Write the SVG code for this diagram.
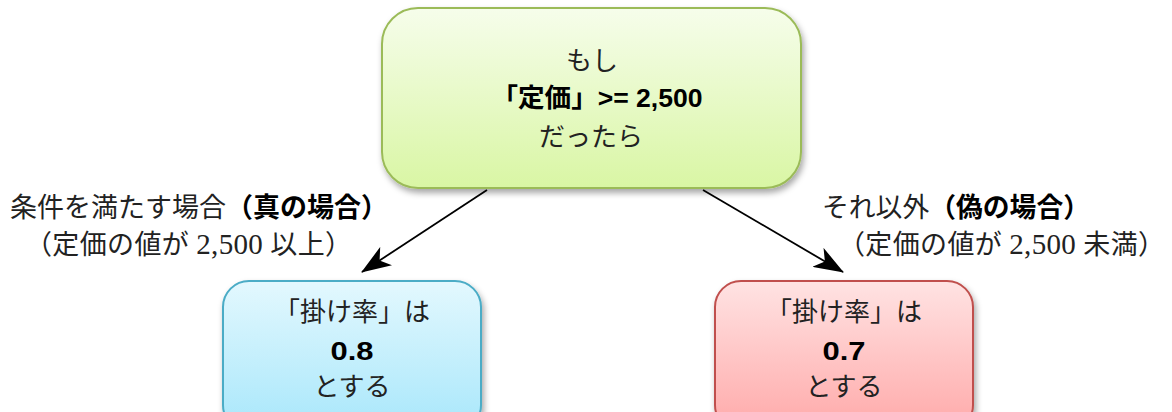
<svg xmlns="http://www.w3.org/2000/svg" width="1172" height="412" viewBox="0 0 1172 412">
<style>
.t{font-family:"Liberation Serif","Noto Sans CJK JP",serif;font-size:26px;fill:#222;text-anchor:middle}
.lb{font-family:"Liberation Serif","Noto Sans CJK JP",serif;font-size:27px;fill:#222}
.b{font-family:"Liberation Sans","Noto Sans CJK JP",sans-serif;font-weight:bold;fill:#000}
.n{font-size:29px}
.c{stroke:#000;stroke-width:1.8;fill:none}
</style>
<defs>
<linearGradient id="gg" x1="0" y1="0" x2="0" y2="1"><stop offset="0" stop-color="#f6fdeb"/><stop offset="1" stop-color="#d9f6a4"/></linearGradient>
<linearGradient id="gb" x1="0" y1="0" x2="0" y2="1"><stop offset="0" stop-color="#e3f8fe"/><stop offset="1" stop-color="#a8e7fb"/></linearGradient>
<linearGradient id="gr" x1="0" y1="0" x2="0" y2="1"><stop offset="0" stop-color="#ffe3e3"/><stop offset="1" stop-color="#ffa9a9"/></linearGradient>
<filter id="sh" x="-10%" y="-10%" width="120%" height="130%"><feDropShadow dx="2" dy="4" stdDeviation="3" flood-color="#000" flood-opacity="0.35"/></filter>
<marker id="ah" viewBox="0 0 30 22" refX="29" refY="11" markerWidth="30" markerHeight="22" markerUnits="userSpaceOnUse" orient="auto"><path d="M0,0 L30,11 L0,22 L8,11 Z" fill="#000"/></marker>
</defs>
<g id="connectors">
<line class="c" x1="487" y1="190" x2="362" y2="272" marker-end="url(#ah)"/>
<line class="c" x1="703" y1="190" x2="843" y2="272" marker-end="url(#ah)"/>
</g>
<g id="condition">
<rect x="382" y="8" width="419" height="180" rx="36" fill="url(#gg)" stroke="#9bbb59" stroke-width="2" filter="url(#sh)"/>
<text class="t" x="592" y="70">もし</text>
<text class="t b" x="597" y="107" font-size="27" textLength="211" lengthAdjust="spacingAndGlyphs">「定価」&gt;= 2,500</text>
<text class="t" x="591" y="146">だったら</text>
</g>
<g id="label-true">
<text class="lb" x="10" y="217" textLength="378" lengthAdjust="spacingAndGlyphs">条件を満たす場合<tspan class="b">（真の場合）</tspan></text>
<text class="lb" x="25" y="254" textLength="327" lengthAdjust="spacing">（定価の値が <tspan class="n">2,500</tspan> 以上）</text>
</g>
<g id="label-false">
<text class="lb" x="822" y="217" textLength="268" lengthAdjust="spacingAndGlyphs">それ以外<tspan class="b">（偽の場合）</tspan></text>
<text class="lb" x="838" y="254" textLength="327" lengthAdjust="spacing">（定価の値が <tspan class="n">2,500</tspan> 未満）</text>
</g>
<g id="true-box">
<rect x="223" y="281" width="258" height="150" rx="26" fill="url(#gb)" stroke="#4bacc6" stroke-width="2" filter="url(#sh)"/>
<text class="t" x="352" y="321">「掛け率」は</text>
<text class="t b" x="352" y="360" font-size="27" textLength="43" lengthAdjust="spacingAndGlyphs">0.8</text>
<text class="t" x="352" y="396">とする</text>
</g>
<g id="false-box">
<rect x="715" y="281" width="258" height="150" rx="26" fill="url(#gr)" stroke="#c0504d" stroke-width="2" filter="url(#sh)"/>
<text class="t" x="844" y="321">「掛け率」は</text>
<text class="t b" x="844" y="360" font-size="27" textLength="43" lengthAdjust="spacingAndGlyphs">0.7</text>
<text class="t" x="844" y="396">とする</text>
</g>
</svg>
